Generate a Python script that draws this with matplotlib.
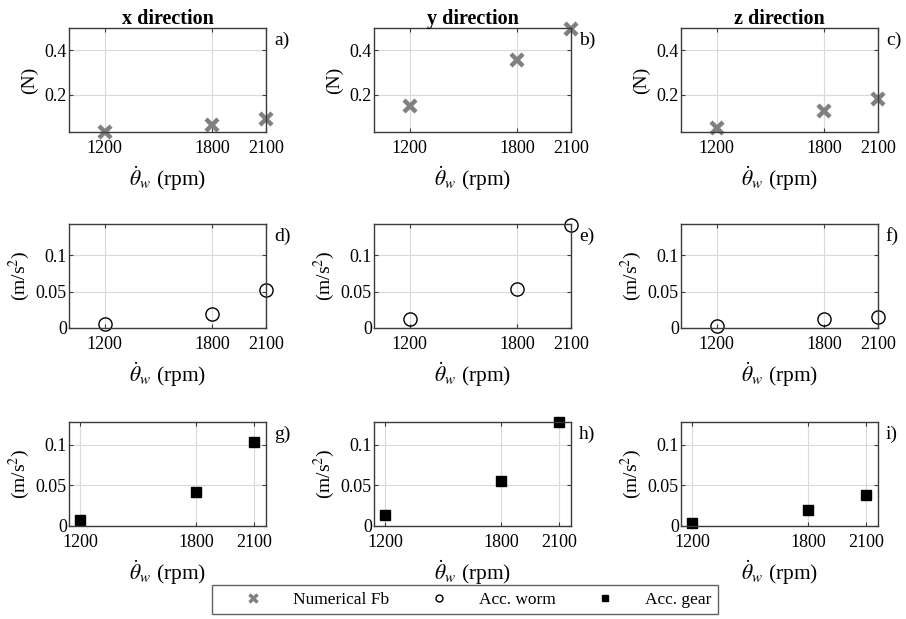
import numpy as np
import matplotlib
matplotlib.use('Agg')
import matplotlib.pyplot as plt
from matplotlib.lines import Line2D

plt.rcParams['font.family'] = ['Liberation Serif', 'DejaVu Serif']
plt.rcParams['mathtext.fontset'] = 'stix'

rpm = [1200, 1800, 2100]
directions = ['x direction', 'y direction', 'z direction']
panel_tags = [['a)', 'b)', 'c)'], ['d)', 'e)', 'f)'], ['g)', 'h)', 'i)']]

# numerical bearing force (N), per direction x, y, z
force_fb = [[0.034, 0.065, 0.092],
            [0.152, 0.358, 0.497],
            [0.052, 0.130, 0.180]]
# worm acceleration (m/s^2)
acc_worm = [[0.005, 0.019, 0.052],
            [0.013, 0.054, 0.141],
            [0.003, 0.013, 0.015]]
# gear acceleration (m/s^2)
acc_gear = [[0.008, 0.042, 0.103],
            [0.013, 0.056, 0.128],
            [0.004, 0.020, 0.038]]

W, H = 906, 619
fig = plt.figure(figsize=(W / 100, H / 100), dpi=100)

col_left = [69, 374, 681]
ax_w = 197
row_top = [28, 224, 422]
ax_h = 104

grey = '#808080'
frame = '#3a3a3a'

def make_ax(r, c):
    x0 = col_left[c] / W
    y0 = 1 - (row_top[r] + ax_h) / H
    ax = fig.add_axes([x0, y0, ax_w / W, ax_h / H])
    ax.grid(True, color='#d9d9d9', linewidth=0.8)
    ax.set_axisbelow(True)
    for s in ax.spines.values():
        s.set_color(frame)
        s.set_linewidth(1.0)
    ax.tick_params(direction='in', length=3, color=frame, labelsize=13,
                   top=True, right=True, labeltop=False, labelright=False)
    ax.tick_params(axis='x', pad=6)
    ax.tick_params(axis='y', pad=1.5)
    ax.set_xticks(rpm)
    ax.set_xticklabels([str(v) for v in rpm])
    ax.set_xlabel(r'$\dot{\theta}_w$ (rpm)', fontsize=15.5, labelpad=5)
    ax.text(1.04, 0.885, panel_tags[r][c], transform=ax.transAxes,
            fontsize=14, ha='left', va='center')
    return ax

for c in range(3):
    # row 1: force
    ax = make_ax(0, c)
    ax.plot(rpm, force_fb[c], linestyle='none', marker='x', color=grey,
            markersize=8.5, markeredgewidth=3.2, clip_on=False)
    ax.set_xlim(1000, 2100)
    ax.set_ylim(0.034, 0.5)
    ax.set_yticks([0.2, 0.4])
    ax.set_yticklabels(['0.2', '0.4'])
    ax.set_ylabel('(N)', fontsize=14, labelpad=5)
    ax.set_title(directions[c], fontsize=14.5, fontweight='bold', pad=3)

    # row 2: worm acceleration
    ax = make_ax(1, c)
    ax.plot(rpm, acc_worm[c], linestyle='none', marker='o', markerfacecolor='none',
            markeredgecolor='black', markersize=9.5, markeredgewidth=1.0, clip_on=False)
    ax.set_xlim(1000, 2100)
    ax.set_ylim(0, 0.143)
    ax.set_yticks([0, 0.05, 0.1])
    ax.set_yticklabels(['0', '0.05', '0.1'])
    ax.set_ylabel(r'(m/s$^2$)', fontsize=14, labelpad=3)

    # row 3: gear acceleration
    ax = make_ax(2, c)
    ax.plot(rpm, acc_gear[c], linestyle='none', marker='s', color='black',
            markersize=7.8, clip_on=False)
    ax.set_xlim(1143, 2160)
    ax.set_ylim(0, 0.128)
    ax.set_yticks([0, 0.05, 0.1])
    ax.set_yticklabels(['0', '0.05', '0.1'])
    ax.set_ylabel(r'(m/s$^2$)', fontsize=14, labelpad=3)

handles = [
    Line2D([], [], linestyle='none', marker='x', color=grey, markersize=5.5, markeredgewidth=2.5),
    Line2D([], [], linestyle='none', marker='o', markerfacecolor='none',
           markeredgecolor='black', markersize=5, markeredgewidth=1.0),
    Line2D([], [], linestyle='none', marker='s', color='black', markersize=4.5),
]
labels = ['Numerical Fb', 'Acc. worm', 'Acc. gear']
leg = fig.legend(handles, labels, loc='center', ncol=3,
                 bbox_to_anchor=((212 + 718) / 2 / W, 1 - 599.5 / H),
                 fontsize=12.5, frameon=True, fancybox=False, edgecolor=frame,
                 handlelength=4.0, handletextpad=0.3, columnspacing=0.87,
                 borderpad=0.35, borderaxespad=0)
leg.get_frame().set_linewidth(1.0)

fig.savefig('out.png', dpi=100)
